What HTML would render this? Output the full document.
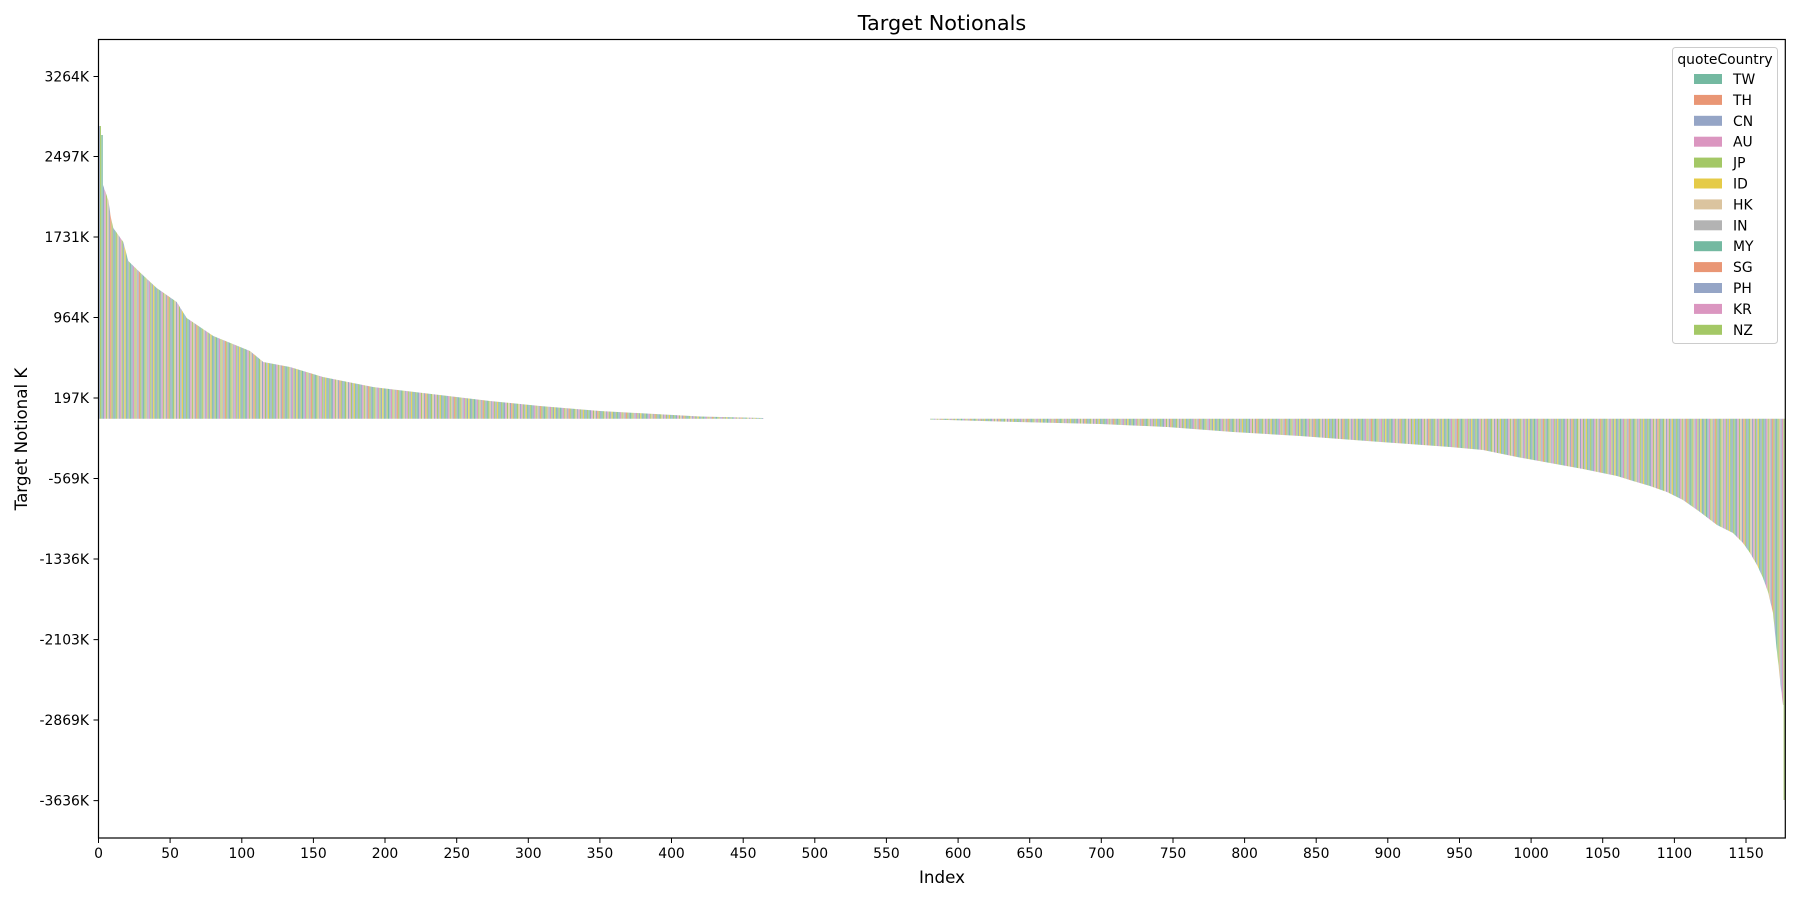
<!DOCTYPE html>
<html><head><meta charset="utf-8"><style>
html,body{margin:0;padding:0;background:#fff;}
svg{display:block;font-family:"DejaVu Sans","Liberation Sans",sans-serif;}
</style></head><body>
<svg width="1800" height="900" viewBox="0 0 1800 900">
<defs>
<pattern id="st" patternUnits="userSpaceOnUse" x="98.5" y="0" width="28.652" height="900">
<rect width="28.652" height="900" fill="#fff"/>
<rect x="0.14" width="1.15" height="900" fill="#95a5c6"/>
<rect x="1.57" width="1.15" height="900" fill="#a4c866"/>
<rect x="3.01" width="1.15" height="900" fill="#74b9a1"/>
<rect x="4.44" width="1.15" height="900" fill="#95a5c6"/>
<rect x="5.87" width="1.15" height="900" fill="#db96c0"/>
<rect x="7.30" width="1.15" height="900" fill="#a4c866"/>
<rect x="8.74" width="1.15" height="900" fill="#dbc49f"/>
<rect x="10.17" width="1.15" height="900" fill="#95a5c6"/>
<rect x="11.60" width="1.15" height="900" fill="#e99675"/>
<rect x="13.03" width="1.15" height="900" fill="#a4c866"/>
<rect x="14.47" width="1.15" height="900" fill="#95a5c6"/>
<rect x="15.90" width="1.15" height="900" fill="#74b9a1"/>
<rect x="17.33" width="1.15" height="900" fill="#a4c866"/>
<rect x="18.76" width="1.15" height="900" fill="#dbc49f"/>
<rect x="20.20" width="1.15" height="900" fill="#95a5c6"/>
<rect x="21.63" width="1.15" height="900" fill="#db96c0"/>
<rect x="23.06" width="1.15" height="900" fill="#a4c866"/>
<rect x="24.49" width="1.15" height="900" fill="#95a5c6"/>
<rect x="25.93" width="1.15" height="900" fill="#e5cb48"/>
<rect x="27.36" width="1.15" height="900" fill="#74b9a1"/>
</pattern>
</defs>
<rect width="1800" height="900" fill="#fff"/>
<polygon fill="url(#st)" points="98.5,418.7 98.5,126 101,126 101,135 103,135 103,185 108.3,200 111,218 113.3,228 123.3,242 128.3,261 141.7,274 156.7,288 176.7,302 186.7,318 213.3,336 250,351 263.3,362 290,367 323,377 373,387 423,393 490,401 540,406 600,411 700,416.5 763,418 764,418.7"/>
<polygon fill="url(#st)" points="930,418.7 930,419.5 1017,422 1100,424 1167,427 1233,432 1300,436 1367,441 1450,447 1483,450 1517,457 1550,463 1583,469 1617,476 1633,481 1650,486 1667,492 1683,500 1700,512 1717,525 1733,533 1743,543 1750,553 1757,565 1763,578 1768,592 1773,613 1776,643 1778,661 1781,689 1783,705 1783.6,705 1783.6,800 1785,800 1785,418.7"/>
<rect x="98.5" y="39.5" width="1686.8" height="798.5" fill="none" stroke="#000" stroke-width="1.2"/>
<path stroke="#000" stroke-width="1" fill="none" d="M98.5,838v5M170.1,838v5M241.8,838v5M313.4,838v5M385,838v5M456.7,838v5M528.3,838v5M599.9,838v5M671.5,838v5M743.2,838v5M814.8,838v5M886.4,838v5M958.1,838v5M1029.7,838v5M1101.3,838v5M1173,838v5M1244.6,838v5M1316.2,838v5M1387.8,838v5M1459.5,838v5M1531.1,838v5M1602.7,838v5M1674.4,838v5M1746,838v5M93.5,76.5h5M93.5,156.5h5M93.5,237h5M93.5,317.5h5M93.5,398h5M93.5,478.5h5M93.5,559h5M93.5,639.6h5M93.5,720h5M93.5,800.6h5"/>
<g font-size="13.9" fill="#000" text-anchor="middle">
<text x="98.5" y="858">0</text><text x="170.1" y="858">50</text><text x="241.8" y="858">100</text><text x="313.4" y="858">150</text><text x="385" y="858">200</text><text x="456.7" y="858">250</text><text x="528.3" y="858">300</text><text x="599.9" y="858">350</text><text x="671.5" y="858">400</text><text x="743.2" y="858">450</text><text x="814.8" y="858">500</text><text x="886.4" y="858">550</text><text x="958.1" y="858">600</text><text x="1029.7" y="858">650</text><text x="1101.3" y="858">700</text><text x="1173" y="858">750</text><text x="1244.6" y="858">800</text><text x="1316.2" y="858">850</text><text x="1387.8" y="858">900</text><text x="1459.5" y="858">950</text><text x="1531.1" y="858">1000</text><text x="1602.7" y="858">1050</text><text x="1674.4" y="858">1100</text><text x="1746" y="858">1150</text>
</g>
<g font-size="13.9" fill="#000" text-anchor="end">
<text x="89" y="81.5">3264K</text><text x="89" y="161.5">2497K</text><text x="89" y="242">1731K</text><text x="89" y="322.5">964K</text><text x="89" y="403">197K</text><text x="89" y="483.5">-569K</text><text x="89" y="564">-1336K</text><text x="89" y="644.6">-2103K</text><text x="89" y="725">-2869K</text><text x="89" y="805.6">-3636K</text>
</g>
<text x="942" y="30" font-size="20.8" text-anchor="middle">Target Notionals</text>
<text x="942" y="883" font-size="16.7" text-anchor="middle">Index</text>
<text transform="translate(27,439) rotate(-90)" font-size="16.7" text-anchor="middle">Target Notional K</text>
<rect x="1672.5" y="47.5" width="105" height="296" rx="3" fill="#fff" stroke="#ccc" stroke-width="1"/>
<text x="1725" y="64" font-size="13.9" text-anchor="middle">quoteCountry</text>
<g font-size="13.9">
<rect x="1694" y="74" width="28" height="10" fill="#74b9a1"/><text x="1733" y="84">TW</text>
<rect x="1694" y="94.9" width="28" height="10" fill="#e99675"/><text x="1733" y="104.9">TH</text>
<rect x="1694" y="115.8" width="28" height="10" fill="#95a5c6"/><text x="1733" y="125.8">CN</text>
<rect x="1694" y="136.7" width="28" height="10" fill="#db96c0"/><text x="1733" y="146.7">AU</text>
<rect x="1694" y="157.6" width="28" height="10" fill="#a4c866"/><text x="1733" y="167.6">JP</text>
<rect x="1694" y="178.5" width="28" height="10" fill="#e5cb48"/><text x="1733" y="188.5">ID</text>
<rect x="1694" y="199.4" width="28" height="10" fill="#dbc49f"/><text x="1733" y="209.4">HK</text>
<rect x="1694" y="220.3" width="28" height="10" fill="#b3b3b3"/><text x="1733" y="230.3">IN</text>
<rect x="1694" y="241.2" width="28" height="10" fill="#74b9a1"/><text x="1733" y="251.2">MY</text>
<rect x="1694" y="262.1" width="28" height="10" fill="#e99675"/><text x="1733" y="272.1">SG</text>
<rect x="1694" y="283" width="28" height="10" fill="#95a5c6"/><text x="1733" y="293">PH</text>
<rect x="1694" y="303.9" width="28" height="10" fill="#db96c0"/><text x="1733" y="313.9">KR</text>
<rect x="1694" y="324.8" width="28" height="10" fill="#a4c866"/><text x="1733" y="334.8">NZ</text>
</g>
</svg>
</body></html>
